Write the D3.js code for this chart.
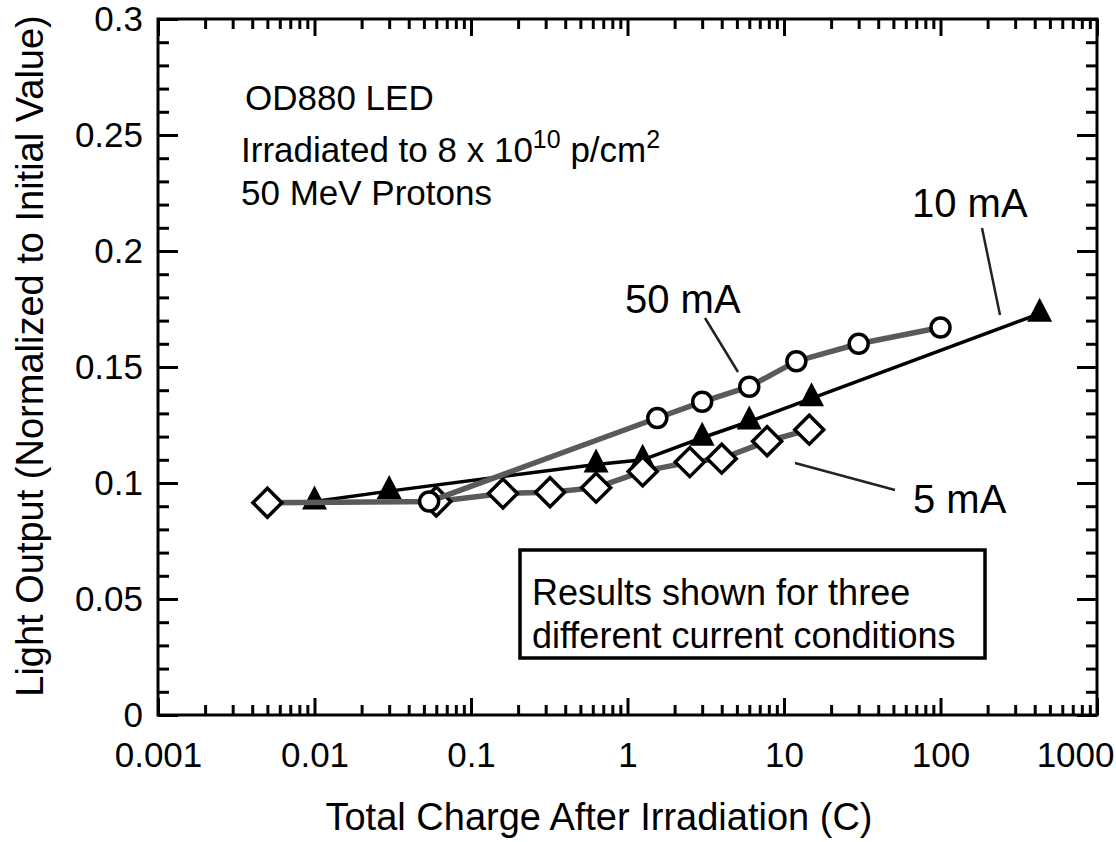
<!DOCTYPE html>
<html>
<head>
<meta charset="utf-8">
<script src="https://cdn.jsdelivr.net/npm/d3@7"></script>
<style>
  body { margin: 0; background: #fff; }
  svg { display: block; }
</style>
</head>
<body>
<script>
const FONT = "'Liberation Sans', Arial, sans-serif";

// x tick labels (decades) and y tick labels
const xTickValues = [0.001, 0.01, 0.1, 1, 10, 100, 1000];
const xTickLabels = ["0.001", "0.01", "0.1", "1", "10", "100", "1000"];
const yTickValues = [0, 0.05, 0.1, 0.15, 0.2, 0.25, 0.3];
const yTickLabels = ["0", "0.05", "0.1", "0.15", "0.2", "0.25", "0.3"];

// 5 mA (open diamonds, grey line)
const charge5 = [0.005, 0.06, 0.16, 0.32, 0.63, 1.25, 2.5, 4, 7.8, 14.5];
const light5 = [0.0915, 0.092, 0.0955, 0.096, 0.098, 0.105, 0.109, 0.1105, 0.118, 0.123];

// 10 mA (filled triangles, black line)
const charge10 = [0.01, 0.03, 0.63, 1.25, 3, 6, 15, 430];
const light10 = [0.092, 0.0965, 0.108, 0.11, 0.1195, 0.1265, 0.1365, 0.173];

// 50 mA (open circles, grey line)
const charge50 = [0.054, 1.55, 3, 6, 12, 30, 100];
const light50 = [0.092, 0.128, 0.135, 0.1415, 0.1525, 0.160, 0.167];

function zip(xs, ys) {
  return xs.map((x, i) => ({ x: x, y: ys[i] }));
}

function draw() {
  const w = 1116;
  const h = 842;
  const left = 158, right = 1097, top = 19, bottom = 715;

  const svg = d3.select("body").append("svg")
    .attr("width", w)
    .attr("height", h);

  const xScale = d3.scaleLog().domain([0.001, 1000]).range([left, right]);
  const yScale = d3.scaleLinear().domain([0, 0.3]).range([bottom, top]);

  // minor tick values
  let xMinor = [];
  for (let e = -3; e < 3; e++) {
    for (let m = 2; m <= 9; m++) xMinor.push(m * Math.pow(10, e));
  }
  let yMinor = d3.range(0, 31).map(d => d / 100).filter(d => Math.round(d * 100) % 5 !== 0);

  function styleAxis(g) {
    g.select(".domain").remove();
    g.selectAll("line").attr("stroke", "#000").attr("stroke-width", 3);
    g.attr("font-family", FONT).attr("font-size", 35);
    g.selectAll("text").attr("fill", "#000");
  }

  // bottom axis
  svg.append("g").attr("transform", `translate(0,${bottom})`)
    .call(d3.axisBottom(xScale).tickValues(xMinor).tickSize(-10).tickFormat(""))
    .call(styleAxis);
  const xAxis = svg.append("g").attr("transform", `translate(0,${bottom})`)
    .call(d3.axisBottom(xScale).tickValues(xTickValues).tickSize(-17).tickPadding(27)
      .tickFormat((d, i) => xTickLabels[i]))
    .call(styleAxis);
  // last label sits at the page edge: pull it inside
  xAxis.selectAll(".tick text")
    .filter(d => d === 1000)
    .attr("text-anchor", "end")
    .attr("x", w - 2 - right);

  // top axis (mirror ticks)
  svg.append("g").attr("transform", `translate(0,${top})`)
    .call(d3.axisTop(xScale).tickValues(xMinor).tickSize(-10).tickFormat(""))
    .call(styleAxis);
  svg.append("g").attr("transform", `translate(0,${top})`)
    .call(d3.axisTop(xScale).tickValues(xTickValues).tickSize(-17).tickFormat(""))
    .call(styleAxis);

  // left axis
  svg.append("g").attr("transform", `translate(${left},0)`)
    .call(d3.axisLeft(yScale).tickValues(yMinor).tickSize(-11).tickFormat(""))
    .call(styleAxis);
  svg.append("g").attr("transform", `translate(${left},0)`)
    .call(d3.axisLeft(yScale).tickValues(yTickValues).tickSize(-20).tickPadding(15)
      .tickFormat((d, i) => yTickLabels[i]))
    .call(styleAxis);
  // right axis (mirror ticks)
  svg.append("g").attr("transform", `translate(${right},0)`)
    .call(d3.axisRight(yScale).tickValues(yMinor).tickSize(-11).tickFormat(""))
    .call(styleAxis);
  svg.append("g").attr("transform", `translate(${right},0)`)
    .call(d3.axisRight(yScale).tickValues(yTickValues).tickSize(-20).tickFormat(""))
    .call(styleAxis);

  // frame
  svg.append("rect")
    .attr("x", left).attr("y", top)
    .attr("width", right - left).attr("height", bottom - top)
    .attr("fill", "none").attr("stroke", "#000").attr("stroke-width", 3);

  // axis titles
  svg.append("text")
    .attr("x", 599).attr("y", 830)
    .attr("text-anchor", "middle")
    .attr("font-family", FONT).attr("font-size", 38)
    .text("Total Charge After Irradiation (C)");
  svg.append("text")
    .attr("transform", "translate(43,356) rotate(-90)")
    .attr("text-anchor", "middle")
    .attr("font-family", FONT).attr("font-size", 38)
    .text("Light Output (Normalized to Initial Value)");

  const line = d3.line().x(d => xScale(d.x)).y(d => yScale(d.y));

  const data5 = zip(charge5, light5);
  const data10 = zip(charge10, light10);
  const data50 = zip(charge50, light50);

  // 10 mA
  svg.append("path").datum(data10)
    .attr("d", line).attr("fill", "none")
    .attr("stroke", "#000").attr("stroke-width", 3.5);
  svg.append("g").selectAll("path")
    .data(data10).enter().append("path")
    .attr("transform", d => `translate(${xScale(d.x)},${yScale(d.y)})`)
    .attr("d", "M0,-16 L12.5,8 L-12.5,8 Z")
    .attr("fill", "#000");

  // 5 mA
  svg.append("path").datum(data5)
    .attr("d", line).attr("fill", "none")
    .attr("stroke", "#5a5a5a").attr("stroke-width", 5.5);
  svg.append("g").selectAll("path")
    .data(data5).enter().append("path")
    .attr("transform", d => `translate(${xScale(d.x)},${yScale(d.y)})`)
    .attr("d", "M0,-14.5 L14.5,0 L0,14.5 L-14.5,0 Z")
    .attr("fill", "#fff").attr("stroke", "#000").attr("stroke-width", 3.5);

  // 50 mA
  svg.append("path").datum(data50)
    .attr("d", line).attr("fill", "none")
    .attr("stroke", "#5a5a5a").attr("stroke-width", 5.5);
  svg.append("g").selectAll("circle")
    .data(data50).enter().append("circle")
    .attr("cx", d => xScale(d.x))
    .attr("cy", d => yScale(d.y))
    .attr("r", 9.5)
    .attr("fill", "#fff").attr("stroke", "#000").attr("stroke-width", 3.5);

  // series labels with leader lines
  const leaders = [
    { text: "50 mA", tx: 625, ty: 313, x1: 705, y1: 318, x2: 738, y2: 372 },
    { text: "10 mA", tx: 912, ty: 217, x1: 982, y1: 228, x2: 1000, y2: 315 },
    { text: "5 mA", tx: 913, ty: 513, x1: 795, y1: 463, x2: 895, y2: 490 }
  ];
  leaders.forEach(l => {
    svg.append("line")
      .attr("x1", l.x1).attr("y1", l.y1).attr("x2", l.x2).attr("y2", l.y2)
      .attr("stroke", "#222").attr("stroke-width", 2.5);
    svg.append("text")
      .attr("x", l.tx).attr("y", l.ty)
      .attr("font-family", FONT).attr("font-size", 40)
      .text(l.text);
  });

  // description text
  svg.append("text").attr("x", 245).attr("y", 110)
    .attr("font-family", FONT).attr("font-size", 35)
    .text("OD880 LED");
  const irr = svg.append("text").attr("x", 241).attr("y", 162)
    .attr("font-family", FONT).attr("font-size", 35);
  irr.append("tspan").text("Irradiated to 8 x 10");
  irr.append("tspan").attr("font-size", 25).attr("dy", -14).text("10");
  irr.append("tspan").attr("dy", 14).text(" p/cm");
  irr.append("tspan").attr("font-size", 25).attr("dy", -14).text("2");
  svg.append("text").attr("x", 241).attr("y", 205)
    .attr("font-family", FONT).attr("font-size", 35)
    .text("50 MeV Protons");

  // note box
  svg.append("rect")
    .attr("x", 520).attr("y", 550)
    .attr("width", 465).attr("height", 108)
    .attr("fill", "#fff").attr("stroke", "#000").attr("stroke-width", 3.5);
  svg.append("text").attr("x", 532).attr("y", 605)
    .attr("font-family", FONT).attr("font-size", 36)
    .text("Results shown for three");
  svg.append("text").attr("x", 532).attr("y", 648)
    .attr("font-family", FONT).attr("font-size", 36)
    .text("different current conditions");
}

window.onload = draw;
</script>
</body>
</html>
